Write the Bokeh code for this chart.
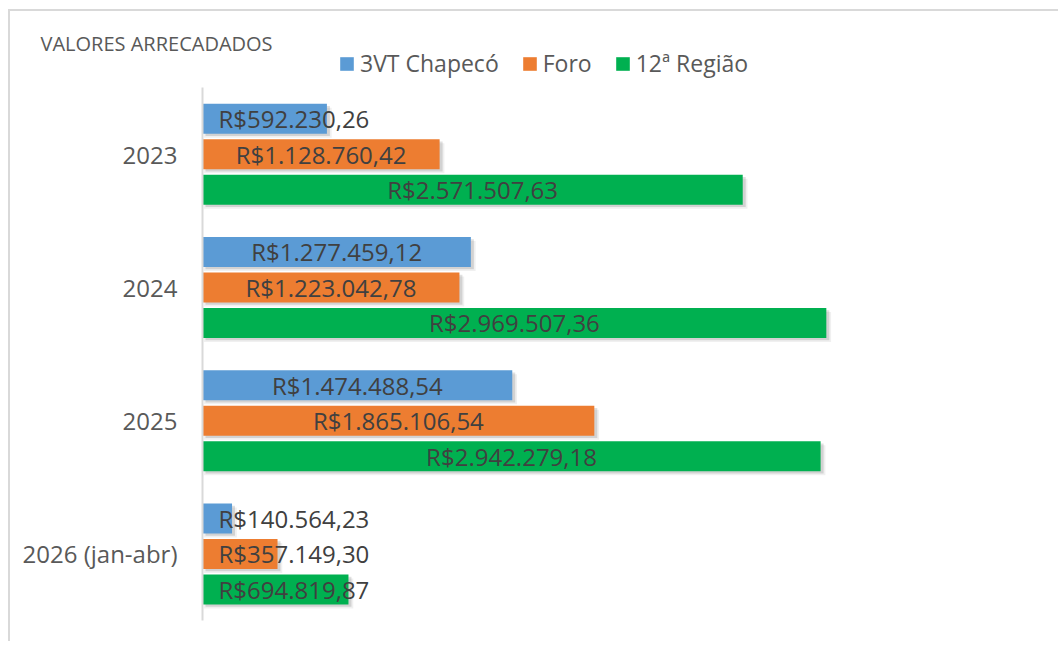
from bokeh.plotting import figure
from bokeh.models import ColumnDataSource, Range1d, Legend, LegendItem, FixedTicker
from bokeh.core.properties import value
from bokeh.embed import file_html
from bokeh.resources import INLINE

# ---- data ----
years = ["2023", "2024", "2025", "2026 (jan-abr)"]
series_names = ["3VT Chapecó", "Foro", "12ª Região"]
vt_chapeco = [592230.26, 1277459.12, 1474488.54, 140564.23]
foro = [1128760.42, 1223042.78, 1865106.54, 357149.30]
regiao_12 = [2571507.63, 2969507.36, 2942279.18, 694819.87]
title_text = "VALORES ARRECADADOS"

# ---- style ----
colors = ["#5B9BD5", "#ED7D31", "#00B050"]
FONT = "Open Sans"
W, H = 1050, 632
MB_L, MB_T, MB_R, MB_B = 192, 35, 45, 23
X_END = 3_870_000
CAT_PX = 133.25
frame_w = W - MB_L - MB_R
frame_h = H - MB_T - MB_B
bar_h = 30 / CAT_PX
pitch = 35.5 / CAT_PX
px_per_unit = frame_w / X_END
CHAR_W = 12.3
MIN_PAD = 16


def brl(v):
    s = f"{v:,.2f}"
    return "R$" + s.replace(",", "X").replace(".", ",").replace("X", ".")


n = len(years)
positions = [n - 1 - k for k in range(n)]  # first year on top

p = figure(
    x_range=Range1d(0, X_END),
    y_range=Range1d(-0.5, -0.5 + frame_h / CAT_PX),
    width=W, height=H,
    output_backend="svg", toolbar_location=None, title=title_text,
    min_border_left=MB_L, min_border_top=MB_T,
    min_border_right=MB_R, min_border_bottom=MB_B,
    background_fill_color="white", border_fill_color="white",
)
p.styles = {"border-top": "2px solid #d9d9d9", "border-left": "2px solid #d9d9d9",
            "margin-top": "9px", "margin-left": "8px"}
p.outline_line_color = None
p.xgrid.visible = False
p.ygrid.visible = False
p.xaxis.visible = False
p.yaxis.ticker = FixedTicker(ticks=positions)
p.yaxis.major_label_overrides = {pos: yr for pos, yr in zip(positions, years)}
p.yaxis.bounds = (-0.5, n - 0.5)
p.yaxis.axis_line_color = "#d9d9d9"
p.yaxis.axis_line_width = 2
p.yaxis.major_tick_line_color = None
p.yaxis.minor_tick_line_color = None
p.yaxis.major_label_text_font = FONT
p.yaxis.major_label_text_font_size = "24px"
p.yaxis.major_label_text_color = "#595959"
p.yaxis.major_label_standoff = 19

p.title.align = "left"
p.title.offset = -162
p.title.standoff = -20
p.title.text_font = FONT
p.title.text_font_size = "20px"
p.title.text_font_style = "normal"
p.title.text_color = "#595959"

all_vals = [vt_chapeco, foro, regiao_12]
dx = 3 / px_per_unit
dy = 3 / CAT_PX
items = []

for i, (name, vals, col) in enumerate(zip(series_names, all_vals, colors)):
    off = pitch * (1 - i)
    labels = [brl(v) for v in vals]
    lx, la, lo = [], [], []
    for v, t in zip(vals, labels):
        bar_px = v * px_per_unit
        tw = len(t) * CHAR_W
        if bar_px / 2 - tw / 2 < MIN_PAD:
            lx.append(0); la.append("left"); lo.append(MIN_PAD)
        else:
            lx.append(v / 2); la.append("center"); lo.append(0)
    ys = [pos + off for pos in positions]
    src = ColumnDataSource(dict(
        year=years, y=ys, val=vals, label=labels, lx=lx, la=la, lo=lo,
        ys1=[y - dy * 0.8 for y in ys], ys2=[y - dy * 1.4 for y in ys],
        sl=[dx] * n, sr=[v + dx for v in vals],
        sl2=[dx * 0.5] * n, sr2=[v + dx * 1.6 for v in vals],
    ))
    # soft shadow
    p.hbar(y="ys2", left="sl2", right="sr2", height=bar_h, source=src,
           fill_color="black", fill_alpha=0.06, line_color=None)
    p.hbar(y="ys1", left="sl", right="sr", height=bar_h, source=src,
           fill_color="black", fill_alpha=0.12, line_color=None)
    r = p.hbar(y="y", left=0, right="val", height=bar_h, source=src,
               fill_color=col, line_color=None)
    items.append(LegendItem(label=name, renderers=[r]))
    p.text(x="lx", y="y", text="label",
           text_align="la", x_offset="lo", text_baseline="middle",
           text_font=value(FONT), text_font_size="24px", text_color="#404040",
           source=src)

leg = Legend(items=items, orientation="horizontal", location=(136, 541),
             padding=0, margin=0, spacing=22, border_line_color=None,
             background_fill_alpha=0, glyph_width=17, glyph_height=17,
             label_standoff=5, label_text_font=FONT, label_text_font_size="23px",
             label_text_color="#595959")
p.add_layout(leg, "center")

open("out.html", "w").write(file_html(p, INLINE))
